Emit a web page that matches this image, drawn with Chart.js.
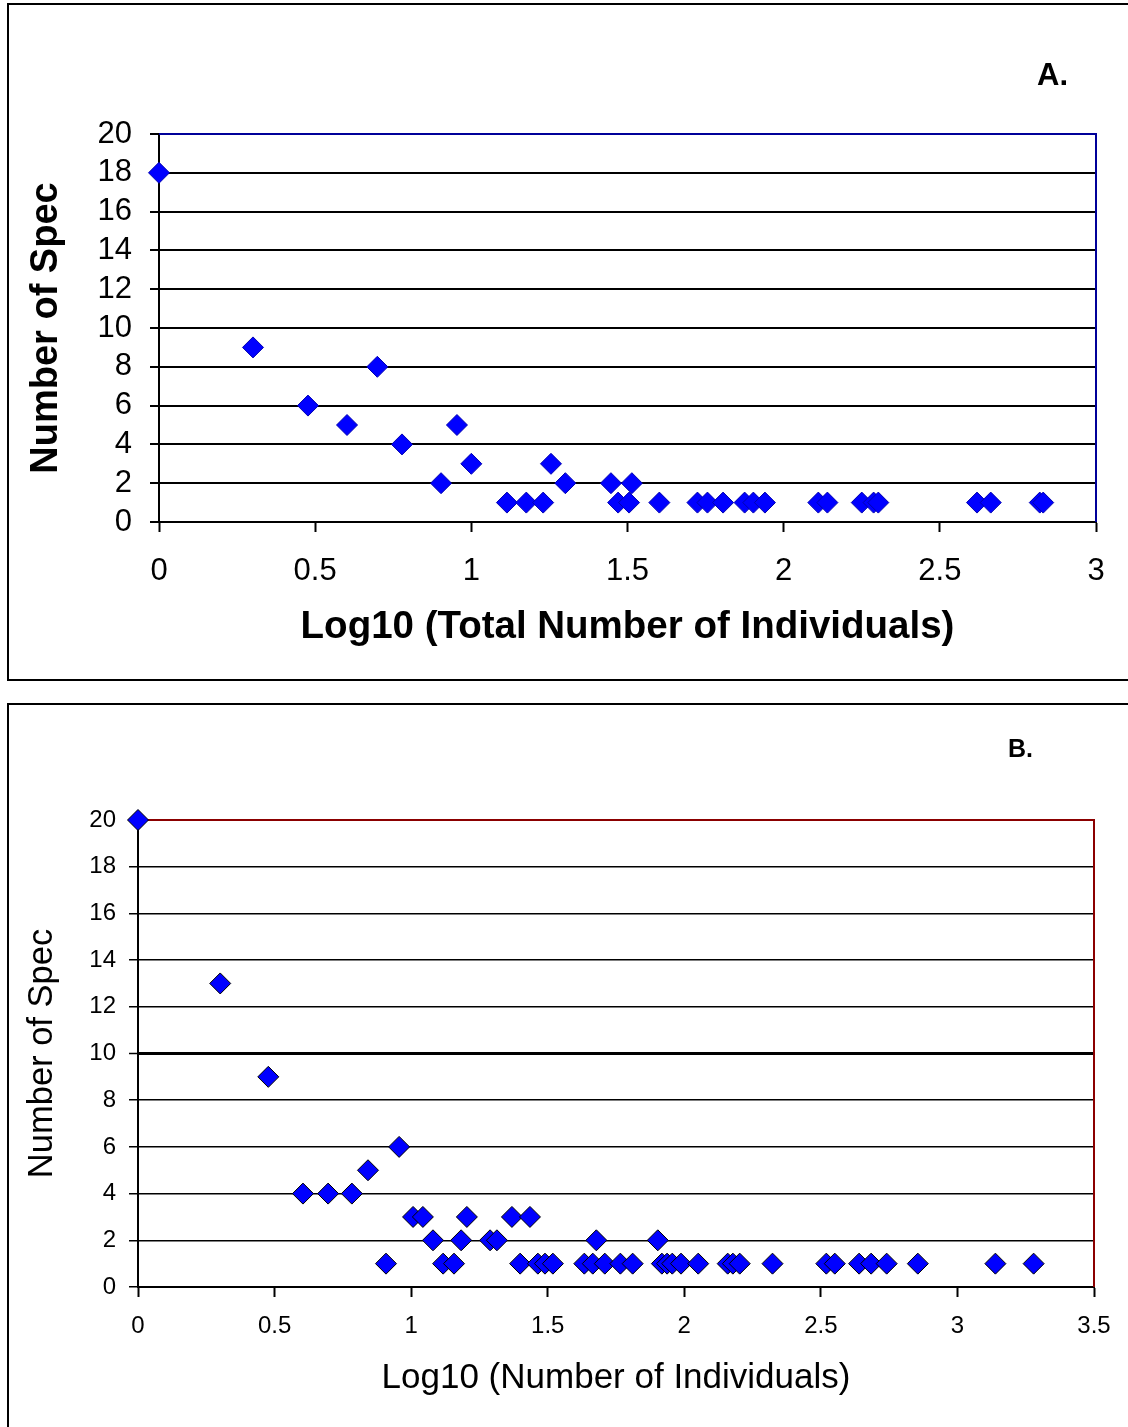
<!DOCTYPE html>
<html>
<head>
<meta charset="utf-8">
<script src="https://cdn.jsdelivr.net/npm/chart.js@4.4.0/dist/chart.umd.min.js"></script>
<style>
    body { margin: 0; background: #fff; width: 1128px; height: 1427px; position: relative; overflow: hidden; font-family: "Liberation Sans", Arial, sans-serif; }
    .frame { position: absolute; border: 2px solid #000; box-sizing: border-box; }
    #frame-a { left: 7px; top: 3px; width: 1140px; height: 678px; }
    #frame-b { left: 7px; top: 703px; width: 1140px; height: 740px; }
    .panel-label { position: absolute; font-weight: bold; color: #000; }
    #label-a { left: 1037px; top: 57px; font-size: 31px; }
    #label-b { left: 1008px; top: 734px; font-size: 25px; }
    canvas { position: absolute; left: 0; }
    #chart-a { top: 0; }
    #chart-b { top: 690px; }
</style>
</head>
<body>
<div class="frame" id="frame-a"></div>
<div class="frame" id="frame-b"></div>
<canvas id="chart-a" width="1128" height="690"></canvas>
<canvas id="chart-b" width="1128" height="737"></canvas>
<div class="panel-label" id="label-a">A.</div>
<div class="panel-label" id="label-b">B.</div>
<script>
// Panel A: log10(total number of individuals) vs number of species
const totalLogX = [0, 0.301, 0.477, 0.602, 0.699, 0.778, 0.903, 0.954, 1.0,
    1.114, 1.176, 1.230, 1.255, 1.301, 1.447, 1.470, 1.505, 1.514, 1.602,
    1.724, 1.756, 1.806, 1.875, 1.903, 1.940, 2.111, 2.140, 2.250, 2.288, 2.303,
    2.619, 2.663, 2.820, 2.831];
const totalSpecies = [18, 9, 6, 5, 8, 4, 2, 5, 3,
    1, 1, 1, 3, 2, 2, 1, 1, 2, 1,
    1, 1, 1, 1, 1, 1, 1, 1, 1, 1, 1,
    1, 1, 1, 1];

// Panel B: log10(number of individuals) vs number of species
const indivLogX = [0, 0.301, 0.477, 0.604, 0.696, 0.783, 0.842, 0.956, 0.908,
    1.007, 1.043, 1.080, 1.117, 1.157, 1.183, 1.204, 1.289, 1.314, 1.369, 1.399,
    1.435, 1.464, 1.490, 1.519, 1.634, 1.665, 1.678, 1.709, 1.766, 1.811, 1.903,
    1.918, 1.937, 1.956, 1.988, 2.051, 2.159, 2.178, 2.203, 2.323, 2.520, 2.551,
    2.640, 2.684, 2.741, 2.855, 3.139, 3.279];
const indivSpecies = [20, 13, 9, 4, 4, 4, 5, 6, 1,
    3, 3, 2, 1, 1, 2, 3, 2, 2, 3, 1,
    3, 1, 1, 1, 1, 1, 2, 1, 1, 1, 2,
    1, 1, 1, 1, 1, 1, 1, 1, 1, 1, 1,
    1, 1, 1, 1, 1, 1];

const yTickStep = 2;
const xTickStep = 0.5;

Chart.defaults.font.family = '"Liberation Sans", Arial, sans-serif';
Chart.defaults.color = '#000';

// draws the top and right edge of the plot area
const plotBorder = {
    id: 'plotBorder',
    beforeDatasetsDraw(chart, args, opts) {
        const {ctx, chartArea: {top, right, bottom, left}} = chart;
        ctx.save();
        ctx.strokeStyle = opts.color;
        ctx.lineWidth = opts.width;
        ctx.beginPath();
        ctx.moveTo(left, top);
        ctx.lineTo(right, top);
        ctx.lineTo(right, bottom);
        ctx.stroke();
        ctx.restore();
    }
};

function toPoints(xs, ys) {
    return xs.map((x, i) => ({x: x, y: ys[i]}));
}

function generateScatterChart(canvas, cfg) {
    return new Chart(canvas, {
        type: 'scatter',
        data: {
            datasets: [{
                data: toPoints(cfg.xs, cfg.ys),
                pointStyle: 'rectRot',
                pointRadius: cfg.radius,
                backgroundColor: '#0000ff',
                borderColor: cfg.markerEdge,
                borderWidth: 1,
                clip: false
            }]
        },
        plugins: [plotBorder],
        options: {
            responsive: false,
            animation: false,
            layout: {padding: cfg.padding},
            plugins: {
                legend: {display: false},
                tooltip: {enabled: false},
                plotBorder: {color: cfg.borderColor, width: 2}
            },
            scales: {
                x: {
                    type: 'linear',
                    min: 0,
                    max: cfg.xMax,
                    afterFit: s => { s.height = cfg.xAxisHeight; },
                    ticks: {
                        stepSize: xTickStep,
                        autoSkip: false,
                        maxRotation: 0,
                        font: {size: cfg.tickSize},
                        padding: cfg.xTickPad,
                        color: '#000',
                        callback: v => String(Math.round(v * 10) / 10)
                    },
                    grid: {drawOnChartArea: false, drawTicks: true, tickLength: 10, tickColor: '#000', tickWidth: 2},
                    border: {color: '#000', width: 2},
                    title: {
                        display: true,
                        text: cfg.xTitle,
                        font: {size: cfg.xTitleSize, weight: cfg.titleWeight},
                        padding: {top: 0, bottom: cfg.xTitlePad},
                        color: '#000'
                    }
                },
                y: {
                    min: 0,
                    max: 20,
                    afterFit: s => { s.width = cfg.yAxisWidth; },
                    ticks: {stepSize: yTickStep, autoSkip: false, font: {size: cfg.tickSize}, padding: cfg.yTickPad, color: '#000'},
                    grid: {
                        color: '#000',
                        lineWidth: ctx => (cfg.boldTen && ctx.tick && ctx.tick.value === 10) ? 3 : cfg.gridWidth,
                        tickLength: 9,
                        tickColor: '#000',
                        tickWidth: cfg.gridWidth
                    },
                    border: {color: '#000', width: 2},
                    title: {
                        display: true,
                        text: 'Number of Spec',
                        font: {size: cfg.yTitleSize, weight: cfg.titleWeight},
                        padding: {top: cfg.yTitlePad, bottom: 0},
                        color: '#000'
                    }
                }
            }
        }
    });
}

generateScatterChart(document.getElementById('chart-a'), {
    xs: totalLogX,
    ys: totalSpecies,
    xMax: 3,
    radius: 10.5,
    markerEdge: '#0000b0',
    borderColor: '#000099',
    padding: {left: 10, right: 32, top: 134, bottom: 0},
    yAxisWidth: 149,
    xAxisHeight: 168,
    tickSize: 31,
    xTickPad: 21,
    yTickPad: 18,
    gridWidth: 2,
    boldTen: false,
    xTitle: 'Log10 (Total Number of Individuals)',
    xTitleSize: 38.5,
    yTitleSize: 38,
    titleWeight: 'bold',
    xTitlePad: 40,
    yTitlePad: 14
});

generateScatterChart(document.getElementById('chart-b'), {
    xs: indivLogX,
    ys: indivSpecies,
    xMax: 3.5,
    radius: 10.5,
    markerEdge: '#000',
    borderColor: '#8b0000',
    padding: {left: 10, right: 34, top: 130, bottom: 0},
    yAxisWidth: 128,
    xAxisHeight: 140,
    tickSize: 24,
    xTickPad: 15,
    yTickPad: 13,
    gridWidth: 1.5,
    boldTen: true,
    xTitle: 'Log10 (Number of Individuals)',
    xTitleSize: 35,
    yTitleSize: 34.5,
    titleWeight: 'normal',
    xTitlePad: 28,
    yTitlePad: 12
});
</script>
</body>
</html>
